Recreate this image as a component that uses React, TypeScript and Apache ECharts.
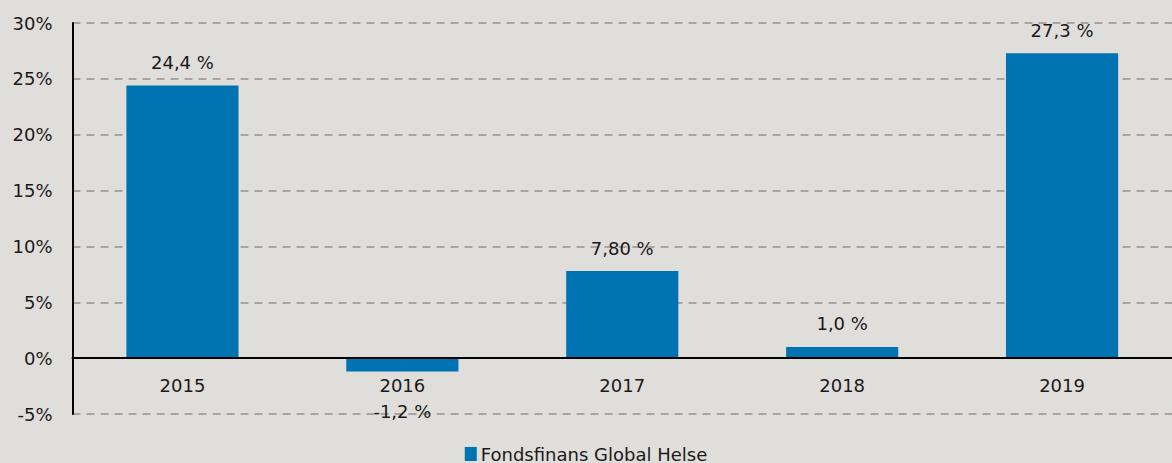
import React, { useEffect, useRef } from "react";
import * as echarts from "echarts";

const categories = ["2015", "2016", "2017", "2018", "2019"];
const values = [24.4, -1.2, 7.8, 1.0, 27.3];
const valueLabels = ["24,4 %", "-1,2 %", "7,80 %", "1,0 %", "27,3 %"];
const seriesName = "Fondsfinans Global Helse";
const yMin = -5;
const yMax = 30;
const yInterval = 5;

const FONT = "DejaVu Sans";
const BAR = "#0073B3";

export default function App() {
  const ref = useRef<HTMLDivElement>(null);
  useEffect(() => {
    document.body.style.margin = "0";
    document.body.style.background = "#E0DEDB";
    const chart = echarts.init(ref.current!, null, { renderer: "svg" });
    chart.setOption({
      animation: false,
      backgroundColor: "#E0DEDB",
      textStyle: { fontFamily: FONT },
      grid: { left: 72.5, top: 23, width: 1106, height: 391, containLabel: false },
      legend: {
        top: 445,
        left: "center",
        padding: 0,
        itemWidth: 12,
        itemHeight: 14,
        itemGap: 10,
        icon: "rect",
        textStyle: { fontFamily: FONT, fontSize: 18, color: "#1a1a1a", padding: [0, 0, 0, -1] },
        data: [seriesName],
      },
      xAxis: {
        type: "category",
        data: categories,
        z: 3,
        axisLine: { show: true, onZero: true, lineStyle: { color: "#000", width: 2 } },
        axisTick: { show: false },
        axisLabel: { margin: -38, fontSize: 18, color: "#1a1a1a", fontFamily: FONT },
        splitLine: { show: false },
      },
      yAxis: {
        type: "value",
        min: yMin,
        max: yMax,
        interval: yInterval,
        axisLine: { show: true, lineStyle: { color: "#000", width: 2 } },
        axisTick: { show: false },
        axisLabel: { formatter: "{value}%", margin: 20, fontSize: 18, color: "#1a1a1a", fontFamily: FONT },
        splitLine: { show: true, lineStyle: { color: "#ABA39E", width: 2, type: [8, 6] } },
      },
      series: [
        {
          name: seriesName,
          type: "bar",
          barWidth: "51%",
          itemStyle: { color: BAR },
          data: values.map((v, i) => ({
            value: v,
            label: {
              show: true,
              position: v < 0 ? "bottom" : "top",
              distance: v < 0 ? 31 : 14,
              formatter: valueLabels[i],
              fontSize: 18,
              color: "#1a1a1a",
              fontFamily: FONT,
            },
          })),
        },
      ],
    });
    return () => chart.dispose();
  }, []);
  return <div ref={ref} style={{ width: 1172, height: 463 }} />;
}
